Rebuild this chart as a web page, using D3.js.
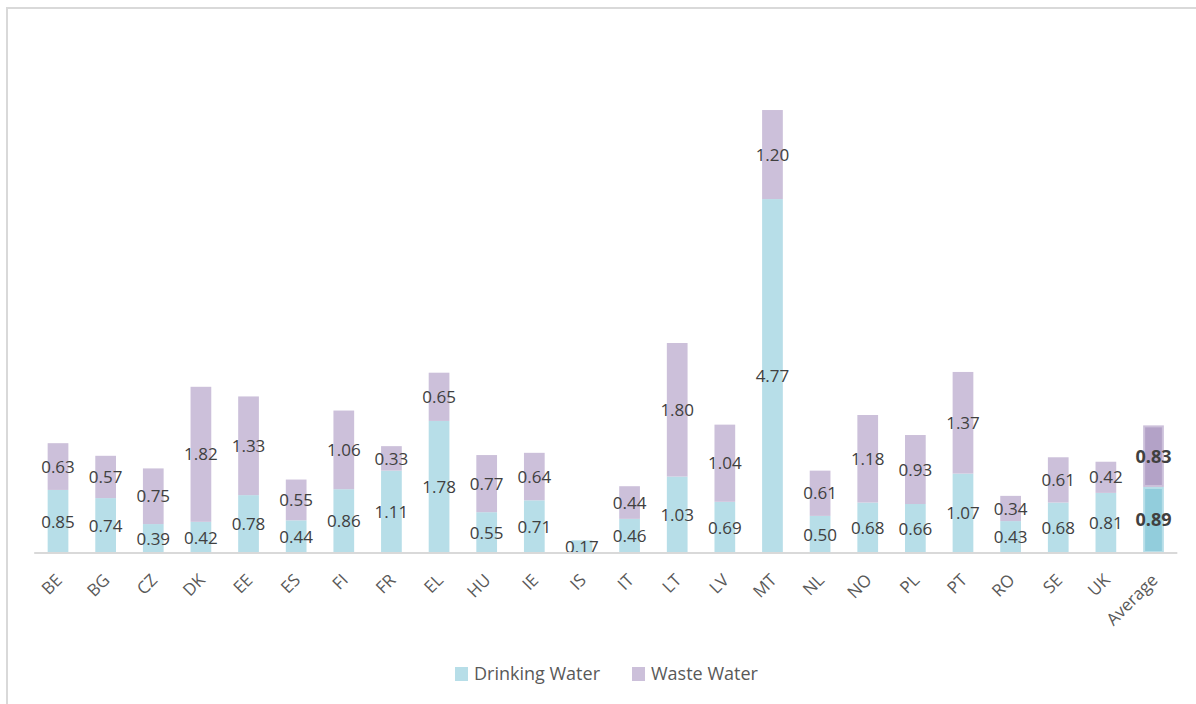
<!DOCTYPE html>
<html>
<head>
<meta charset="utf-8">
<script src="https://cdn.jsdelivr.net/npm/d3@7"></script>
<style>
  html, body { margin: 0; padding: 0; background: #fff; }
  svg { display: block; }
</style>
</head>
<body>
<svg id="chart" width="1196" height="704"></svg>
<script>
const categories = ["BE","BG","CZ","DK","EE","ES","FI","FR","EL","HU","IE","IS","IT","LT","LV","MT","NL","NO","PL","PT","RO","SE","UK","Average"];
const drinkingWater = [0.85,0.74,0.39,0.42,0.78,0.44,0.86,1.11,1.78,0.55,0.71,0.17,0.46,1.03,0.69,4.77,0.50,0.68,0.66,1.07,0.43,0.68,0.81,0.89];
const wasteWater = [0.63,0.57,0.75,1.82,1.33,0.55,1.06,0.33,0.65,0.77,0.64,0,0.44,1.80,1.04,1.20,0.61,1.18,0.93,1.37,0.34,0.61,0.42,0.83];
const seriesNames = ["Drinking Water","Waste Water"];
const yMax = 6;

const svg = d3.select("#chart");
const W = 1196, H = 704;
const font = "'Open Sans', 'Noto Sans', sans-serif";

// outer border (only top & left visible)
svg.append("line").attr("x1",7).attr("x2",W).attr("y1",8).attr("y2",8).attr("stroke","#d9d9d9").attr("stroke-width",2);
svg.append("line").attr("x1",7).attr("x2",7).attr("y1",7).attr("y2",H).attr("stroke","#d9d9d9").attr("stroke-width",2);

const x0 = 34.2, x1 = 34.2 + 24*47.63;
const y = d3.scaleLinear().domain([0, yMax]).range([553, 553 - yMax*74.2]);
const x = d3.scaleBand().domain(categories).range([x0, x1]).paddingInner(0.565).paddingOuter(0.2825);

const data = categories.map((c,i)=>({cat:c, dw:drinkingWater[i], ww:wasteWater[i], avg: c==="Average"}));
const stack = d3.stack().keys(["dw","ww"])(data);

const fills = {dw:"#b7dee8", ww:"#ccc0da"};
const avgFills = {dw:"#92cddc", ww:"#b3a2c7"};

const g = svg.append("g");
stack.forEach(layer => {
  const key = layer.key;
  g.selectAll(null).data(layer).enter().append("rect")
    .attr("x", d => x(d.data.cat) + (d.data.avg ? 1 : 0))
    .attr("width", d => x.bandwidth() - (d.data.avg ? 2 : 0))
    .attr("y", d => y(d[1]) + (d.data.avg ? 1 : 0))
    .attr("height", d => Math.max(0, y(d[0]) - y(d[1]) - (d.data.avg ? 2 : 0)))
    .attr("fill", d => d.data.avg ? avgFills[key] : fills[key])
    .attr("stroke", d => d.data.avg ? fills[key] : "none")
    .attr("stroke-width", d => d.data.avg ? 2 : 0);
});

// axis line
svg.append("line").attr("x1",x0).attr("x2",x1).attr("y1",y(0)).attr("y2",y(0))
  .attr("stroke","#d9d9d9").attr("stroke-width",2);

// data labels
stack.forEach(layer => {
  g.selectAll(null).data(layer.filter(d => d[1]-d[0] > 0)).enter().append("text")
    .attr("x", d => x(d.data.cat) + x.bandwidth()/2)
    .attr("y", d => (y(d[0]) + y(d[1]))/2)
    .attr("dy","0.36em")
    .attr("text-anchor","middle")
    .attr("font-family", font)
    .attr("font-size", d => d.data.avg ? 18 : 17)
    .attr("font-weight", d => d.data.avg ? "bold" : "normal")
    .attr("fill","#404040")
    .text(d => (d[1]-d[0]).toFixed(2));
});

// x-axis labels via d3 axis
const xAxis = d3.axisBottom(x).tickSize(0).tickPadding(0);
const ax = svg.append("g").attr("transform",`translate(0,${y(0)})`).call(xAxis);
ax.select(".domain").remove();
ax.selectAll(".tick text")
  .attr("font-family", font)
  .attr("font-size", 17)
  .attr("fill","#595959")
  .attr("text-anchor","end")
  .attr("dy","0.35em")
  .attr("y",0)
  .attr("transform","translate(1,24) rotate(-45)");

// legend
const legend = svg.append("g").attr("transform","translate(0,674)");
const legendX = [455, 632];
seriesNames.forEach((n,i) => {
  const lg = legend.append("g").attr("transform",`translate(${legendX[i]},0)`);
  lg.append("rect").attr("x",0).attr("y",-7).attr("width",13).attr("height",14)
    .attr("fill", i===0 ? fills.dw : fills.ww);
  lg.append("text").attr("x",19).attr("y",0).attr("dy","0.36em")
    .attr("font-family",font).attr("font-size",18).attr("fill","#595959").text(n);
});
</script>
</body>
</html>
